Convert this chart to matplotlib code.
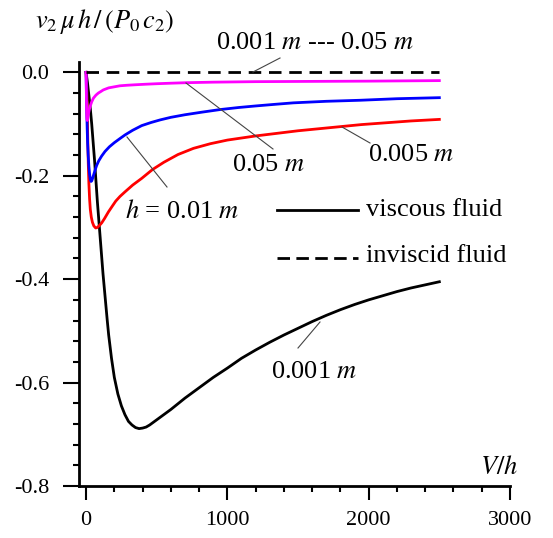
import matplotlib
matplotlib.use("Agg")
import matplotlib.pyplot as plt
from matplotlib.ticker import MultipleLocator, FixedLocator

plt.rcParams["font.family"] = ["Liberation Serif", "DejaVu Serif"]
plt.rcParams["mathtext.fontset"] = "stix"

# viscous fluid curves (V/h, v2*mu*h/(P0*c2))
x_h0001 = [0, 10, 20, 30, 40, 50, 60, 70, 80, 90, 100, 110, 120, 130, 140, 150, 160,
           180, 200, 225, 250, 275, 300, 325, 350, 375, 400, 425, 450, 475, 500, 550,
           600, 650, 700, 750, 800, 900, 1000, 1100, 1200, 1300, 1400, 1500, 1600,
           1700, 1800, 1900, 2000, 2100, 2200, 2300, 2400, 2500]
y_h0001 = [0, -0.02, -0.045, -0.07, -0.10, -0.135, -0.17, -0.21, -0.25, -0.285, -0.32,
           -0.355, -0.39, -0.42, -0.45, -0.48, -0.508, -0.553, -0.59, -0.622, -0.645,
           -0.662, -0.675, -0.682, -0.687, -0.689, -0.688, -0.686, -0.682, -0.677,
           -0.672, -0.662, -0.652, -0.641, -0.630, -0.620, -0.610, -0.590, -0.572,
           -0.553, -0.537, -0.522, -0.508, -0.495, -0.482, -0.470, -0.459, -0.449,
           -0.440, -0.432, -0.424, -0.417, -0.411, -0.405]

x_h0005 = [0, 3, 6, 9, 12, 16, 20, 25, 30, 37, 45, 55, 68, 80, 95, 111, 130, 158, 185,
           210, 240, 276, 330, 394, 470, 550, 650, 760, 880, 1000, 1200, 1350, 1500,
           1650, 1800, 1950, 2100, 2300, 2500]
y_h0005 = [0, -0.015, -0.045, -0.085, -0.13, -0.18, -0.215, -0.245, -0.265, -0.28,
           -0.29, -0.297, -0.301, -0.3, -0.296, -0.291, -0.283, -0.27, -0.259, -0.249,
           -0.24, -0.231, -0.218, -0.205, -0.188, -0.174, -0.159, -0.147, -0.138,
           -0.131, -0.123, -0.118, -0.113, -0.109, -0.105, -0.101, -0.098, -0.094,
           -0.091]

x_h001 = [0, 2, 4, 6, 8, 11, 15, 20, 25, 30, 35, 40, 45, 55, 64, 75, 90, 110, 134,
          165, 200, 240, 276, 330, 394, 460, 524, 600, 700, 820, 948, 1080, 1200,
          1330, 1467, 1700, 1939, 2200, 2500]
y_h001 = [0, -0.03, -0.06, -0.088, -0.11, -0.137, -0.16, -0.182, -0.197, -0.207,
          -0.211, -0.21, -0.206, -0.197, -0.189, -0.18, -0.171, -0.162, -0.153,
          -0.144, -0.136, -0.128, -0.121, -0.112, -0.103, -0.097, -0.092, -0.087,
          -0.082, -0.077, -0.072, -0.068, -0.065, -0.062, -0.059, -0.056, -0.054,
          -0.051, -0.049]

x_h005 = [0, 1, 2, 3, 4, 5, 6, 8, 10, 13, 17, 22, 30, 40, 52, 70, 87, 105, 122, 160,
          200, 240, 288, 350, 420, 500, 600, 713, 900, 1200, 1600, 2000, 2500]
y_h005 = [0, -0.02, -0.04, -0.058, -0.073, -0.084, -0.09, -0.093, -0.092, -0.087,
          -0.08, -0.073, -0.065, -0.057, -0.05, -0.044, -0.04, -0.037, -0.034, -0.03,
          -0.028, -0.026, -0.025, -0.024, -0.023, -0.022, -0.021, -0.020, -0.019,
          -0.018, -0.0175, -0.017, -0.016]

# inviscid fluid (all h)
x_inv = [0, 2500]
y_inv = [0, 0]

W, H = 553, 538
fig = plt.figure(figsize=(W / 100, H / 100), dpi=100)
ax = fig.add_axes([79 / W, 1 - 486 / H, (510 - 79) / W, (486 - 62) / H])

lw = 2.0
ax.plot(x_h0001, y_h0001, color="black", lw=lw, zorder=3)
ax.plot(x_h0005, y_h0005, color="#ff0000", lw=lw, zorder=3)
ax.plot(x_h001, y_h001, color="#0000ff", lw=lw, zorder=3)
ax.plot(x_h005, y_h005, color="#ff00ff", lw=lw, zorder=3)
ax.plot(x_inv, y_inv, color="black", lw=lw, dashes=(4.5, 2.8), zorder=4)

ax.set_xlim(-50, 3000)
ax.set_ylim(-0.8, 0.02)

ax.xaxis.set_major_locator(FixedLocator([0, 1000, 2000, 3000]))
ax.xaxis.set_minor_locator(MultipleLocator(200))
ax.yaxis.set_major_locator(FixedLocator([0.0, -0.2, -0.4, -0.6, -0.8]))
ax.yaxis.set_minor_locator(MultipleLocator(0.04))
ax.set_yticklabels(["0.0", "-0.2", "-0.4", "-0.6", "-0.8"])

ax.tick_params(axis="x", which="major", direction="out", length=10, width=1.5,
               pad=8, labelsize=16)
ax.tick_params(axis="x", which="minor", direction="out", length=4.5, width=1.5)
ax.tick_params(axis="y", which="major", direction="out", length=11.3, width=1.5,
               pad=10, labelsize=16)
ax.tick_params(axis="y", which="minor", direction="out", length=4.3, width=1.5)

for side in ("top", "right"):
    ax.spines[side].set_visible(False)
for side in ("left", "bottom"):
    ax.spines[side].set_linewidth(2.0)

def px(x, y):
    return x / W, 1 - y / H

fs = 19
fig.text(*px(35, 22), r"$v_2\,\mu\, h\,/\,(P_0\, c_2)$", fontsize=fs, va="center", ha="left")
fig.text(*px(480, 467), r"$V/h$", fontsize=fs, va="center", ha="left")

fig.text(*px(216, 43), "0.001 $m$ --- 0.05 $m$", fontsize=fs, va="center")
fig.text(*px(232, 165), "0.05 $m$", fontsize=fs, va="center")
fig.text(*px(368, 155), "0.005 $m$", fontsize=fs, va="center")
fig.text(*px(125, 211), "$h$ = 0.01 $m$", fontsize=fs, va="center")
fig.text(*px(271, 372), "0.001 $m$", fontsize=fs, va="center")

# leader lines
leaders = [((280, 58), (253, 72)),
           ((186, 83), (273, 149)),
           ((342, 127), (370, 143)),
           ((127, 137), (167, 187)),
           ((320, 322), (298, 348))]
for (x0, y0), (x1, y1) in leaders:
    fig.add_artist(plt.Line2D([x0 / W, x1 / W], [1 - y0 / H, 1 - y1 / H],
                              color="#444444", lw=0.8))

# legend drawn by hand like the original
fig.add_artist(plt.Line2D([277 / W, 358 / W], [1 - 210 / H, 1 - 210 / H],
                          color="black", lw=lw))
fig.add_artist(plt.Line2D([277 / W, 358 / W], [1 - 258 / H, 1 - 258 / H],
                          color="black", lw=lw, dashes=(4.5, 2.3)))
fig.text(*px(366, 210), "viscous fluid", fontsize=fs, va="center")
fig.text(*px(366, 256), "inviscid fluid", fontsize=fs, va="center")

fig.savefig("out.png", dpi=100)
